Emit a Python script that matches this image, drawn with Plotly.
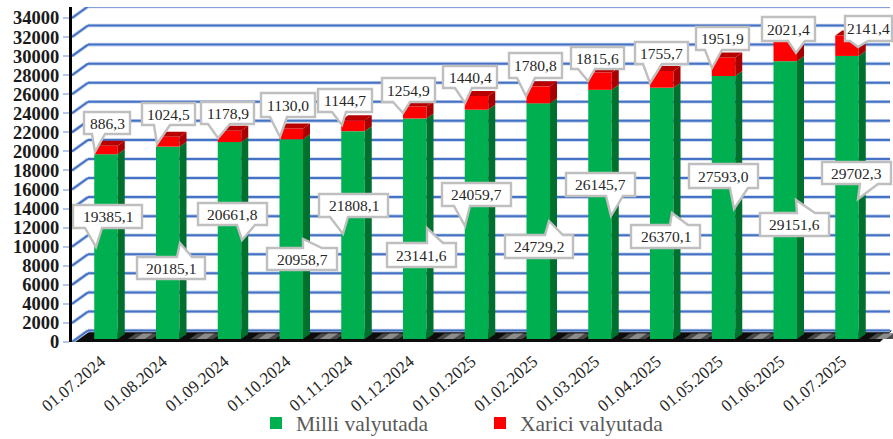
import plotly.graph_objects as go

# ---------- data ----------
dates = ["01.07.2024", "01.08.2024", "01.09.2024", "01.10.2024", "01.11.2024", "01.12.2024", "01.01.2025",
         "01.02.2025", "01.03.2025", "01.04.2025", "01.05.2025", "01.06.2025", "01.07.2025"]
milli = [19385.1, 20185.1, 20661.8, 20958.7, 21808.1, 23141.6, 24059.7, 24729.2, 26145.7, 26370.1, 27593.0, 29151.6, 29702.3]
xarici = [886.3, 1024.5, 1178.9, 1130.0, 1144.7, 1254.9, 1440.4, 1780.8, 1815.6, 1755.7, 1951.9, 2021.4, 2141.4]
y_ticks = list(range(0, 34001, 2000))

# ---------- geometry (pixels) ----------
W, H = 893, 439
PL, PT, PB = 72, 7, 342
PX_Y = 0.00953        # pixels per unit
STEP, X0 = 61.75, 106 # pixels per category, centre of first bar
BAR_W = 23.5
DX, DY = 7, 5         # bar depth
WX, WY = 16, 11.5     # wall depth
FLOOR_R = 880
BASE = 3 / PX_Y       # bars stand slightly inside the floor

def fx(p): return (p - X0) / STEP
def fy(p): return (PB - p) / PX_Y

# callout boxes: x0, y0, x1, y1, tail base a, tail base b, tip x, tip y
red_boxes = [
    (84, 112, 130, 134, 92, 105, 95, 152), (142, 103, 195, 125, 154, 170, 157, 144),
    (201, 102, 254, 124, 208, 230, 218, 138), (261, 93, 315, 117, 270, 287, 280, 137),
    (318, 89, 372, 112, 332, 346, 342, 125), (382, 78, 435, 102, 393, 410, 403, 113),
    (443, 66, 497, 88, 455, 472, 465, 103), (509, 53, 562, 78, 517, 535, 526, 96),
    (571, 47, 624, 69, 578, 595, 588, 81), (635, 42, 688, 64, 643, 662, 650, 83),
    (696, 27, 749, 50, 705, 722, 712, 68), (762, 17, 815, 41, 788, 805, 796, 53),
    (845, 16, 892, 41, 850, 868, 858, 47)]
green_boxes = [
    (73, 205, 142, 228, 85, 102, 96, 247), (137, 257, 205, 279, 177, 192, 180, 243),
    (198, 203, 267, 225, 237, 255, 242, 240), (267, 248, 337, 270, 303, 322, 303, 239),
    (319, 194, 388, 217, 330, 348, 343, 234), (387, 243, 456, 267, 427, 443, 427, 228),
    (442, 183, 511, 206, 454, 470, 465, 226), (505, 235, 573, 258, 545, 563, 549, 221),
    (566, 173, 635, 196, 606, 623, 611, 216), (631, 225, 700, 248, 670, 688, 672, 213),
    (689, 164, 758, 188, 730, 748, 734, 209), (760, 213, 829, 236, 797, 815, 796, 200),
    (822, 162, 891, 184, 860, 878, 858, 199)]

def fmt(v): return f"{v:.1f}".replace(".", ",")

shapes, annos = [], []

def poly(pts, fill, line=None, lw=0, layer="below"):
    d = "M" + " L".join(f"{fx(a):.4f},{fy(b):.2f}" for a, b in pts) + " Z"
    shapes.append(dict(type="path", path=d, xref="x", yref="y", fillcolor=fill, layer=layer,
                       line=dict(color=line or fill, width=lw)))

def segs(pts, color, lw):
    for (a, b), (c, e) in zip(pts, pts[1:]):
        shapes.append(dict(type="line", xref="x", yref="y", x0=fx(a), y0=fy(b), x1=fx(c), y1=fy(e),
                           layer="below", line=dict(color=color, width=lw)))

# floor
poly([(PL, PB), (PL + WX, PB - WY), (W - 1, PB - WY), (FLOOR_R, PB)], "#0d0d0d")
for i in range(len(dates)):
    gap = X0 + STEP * i + BAR_W / 2
    poly([(gap + 10, PB - 3), (gap + 18, PB - 8.5), (gap + 42, PB - 8.5), (gap + 34, PB - 3)], "#4a4a4a")
    poly([(gap + 17, PB - 3), (gap + 25, PB - 8.5), (gap + 35, PB - 8.5), (gap + 27, PB - 3)], "#8c8c8c")

# wall grid (behind the bars)
for t in y_ticks:
    yp = PB - t * PX_Y
    pts = [(PL, yp), (PL + WX, yp - WY), (W - 3, yp - WY)]
    segs(pts, "#c3d1ec", 3.6)
    segs(pts, "#4472c4", 2)

# callouts
for boxes, vals in ((green_boxes, milli), (red_boxes, xarici)):
    for (x0, y0, x1, y1, a, b, tx, ty), v in zip(boxes, vals):
        if ty > y1:
            pts = [(x0, y0), (x1, y0), (x1, y1), (b, y1), (tx, ty), (a, y1), (x0, y1)]
        else:
            pts = [(x0, y0), (a, y0), (tx, ty), (b, y0), (x1, y0), (x1, y1), (x0, y1)]
        poly(pts, "#ffffff", "#bfbfbf", 2.4, layer="above")
        annos.append(dict(x=fx((x0 + x1) / 2), y=fy((y0 + y1) / 2), xref="x", yref="y", text=fmt(v),
                          showarrow=False, xanchor="center", yanchor="middle",
                          font=dict(family="Liberation Serif", size=15.5, color="#262626")))

idx = list(range(len(dates)))
fig = go.Figure()
fig.add_bar(x=idx, y=milli, base=[BASE] * len(idx), width=BAR_W / STEP, marker=dict(color="#00b050", line_width=0),
            name="Milli valyutada", hoverinfo="skip")
fig.add_bar(x=idx, y=xarici, base=[BASE + m for m in milli], width=BAR_W / STEP, marker=dict(color="#ff0000", line_width=0),
            name="Xarici valyutada", hoverinfo="skip")

hw, ddx, ddy = BAR_W / STEP / 2, DX / STEP, DY / PX_Y

def faces(lo, hi, top=False):
    xs, ys = [], []
    for i, a, b in zip(idx, lo, hi):
        if top:
            xs += [i - hw, i + hw, i + hw + ddx, i - hw + ddx, i - hw, None]
            ys += [b, b, b + ddy, b + ddy, b, None]
        else:
            xs += [i + hw, i + hw + ddx, i + hw + ddx, i + hw, i + hw, None]
            ys += [a, a + ddy, b + ddy, b, a, None]
    return xs, ys

tops_g = [BASE + m for m in milli]
tops_r = [BASE + m + x for m, x in zip(milli, xarici)]
for (lo, hi, top, col) in ((([BASE] * len(idx)), tops_g, False, "#00702f"),
                           (tops_g, tops_r, False, "#a80000"),
                           (tops_g, tops_r, True, "#b80000")):
    xs, ys = faces(lo, hi, top)
    fig.add_scatter(x=xs, y=ys, mode="lines", fill="toself", fillcolor=col, line=dict(width=0, color=col),
                    showlegend=False, hoverinfo="skip")

fig.update_layout(
    width=W, height=H, autosize=False, barmode="overlay", paper_bgcolor="white", plot_bgcolor="white",
    margin=dict(l=PL, r=0, t=PT, b=H - PB, autoexpand=False),
    shapes=shapes, annotations=annos,
    legend=dict(orientation="h", x=(256 - PL) / (W - PL), y=(PB - 423) / (PB - PT), xanchor="left", yanchor="middle",
                entrywidth=179, entrywidthmode="pixels", traceorder="normal", bgcolor="rgba(0,0,0,0)",
                font=dict(family="Liberation Serif", size=21.5, color="#595959")),
    xaxis=dict(range=[fx(PL), fx(W)], tickmode="array", tickvals=idx, ticktext=dates, tickangle=-40,
               showgrid=False, zeroline=False, showline=False, ticks="outside", ticklen=2, tickcolor="rgba(0,0,0,0)",
               ticklabelshift=-5,
               tickfont=dict(family="Liberation Serif", size=17, color="#262626")),
    yaxis=dict(range=[0, fy(PT)], tickmode="array", tickvals=y_ticks, tickformat="d", showgrid=False, zeroline=False,
               showline=True, linecolor="#000000", linewidth=3, ticks="outside", ticklen=6, tickcolor="#b4c7e7", tickwidth=2,
               tickfont=dict(family="Liberation Serif", size=18.5, color="#1a1a1a", weight="bold")),
)
fig.write_html("out.html", config=dict(displayModeBar=False),
               post_script="document.body.style.margin='0';document.documentElement.style.overflow='hidden';")
